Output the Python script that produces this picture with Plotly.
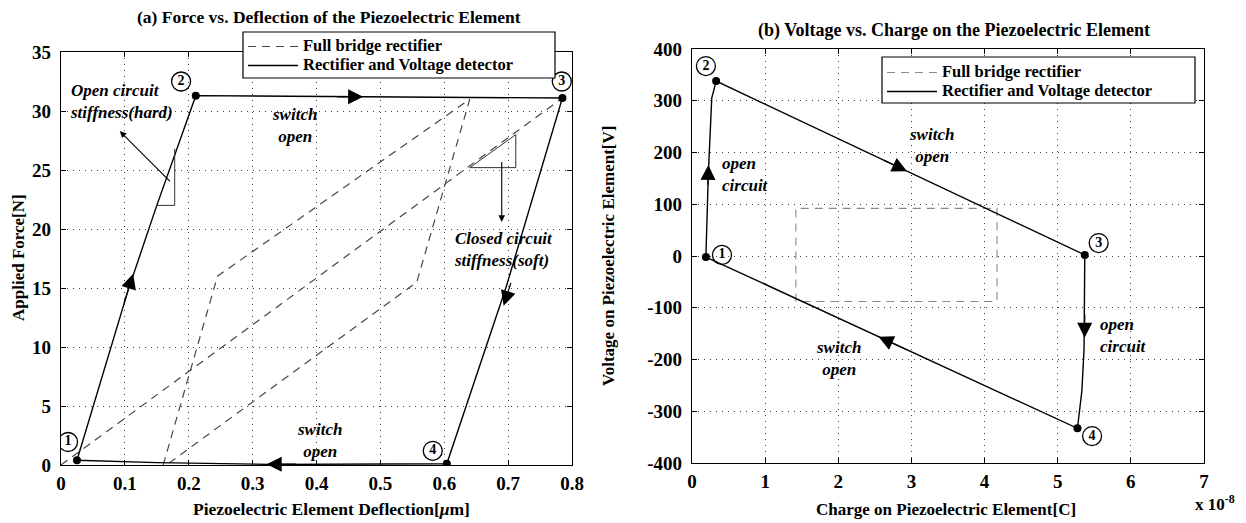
import plotly.graph_objects as go

FONT = "Liberation Serif"
W, H = 1246, 523

# ---------------- (a) Force vs. deflection ----------------
# rectifier + voltage detector cycle: states 1 -> 2 -> 3 -> 4 -> 1
defl_rvd = [0.025, 0.105, 0.150, 0.211, 0.785, 0.697, 0.604, 0.33, 0.15, 0.025]
force_rvd = [0.4, 14.8, 22.0, 31.3, 31.1, 15.1, 0.1, 0.05, 0.2, 0.4]

# full bridge rectifier: closed-circuit line through the origin and the bridge loop
defl_fbr = [0.0, 0.785, None, 0.160, 0.245, 0.640, 0.557, 0.165]
force_fbr = [0.0, 31.1, None, 0.0, 16.0, 31.0, 15.5, 0.0]

state_defl = [0.025, 0.211, 0.785, 0.604]
state_force = [0.4, 31.3, 31.1, 0.1]
state_names = ["1", "2", "3", "4"]
lbl_defl = [0.011, 0.188, 0.784, 0.582]
lbl_force = [1.95, 32.5, 32.5, 1.2]

# stiffness triangles
tri_hard_defl = [0.150, 0.178, 0.178]
tri_hard_force = [22.0, 22.0, 26.8]
tri_soft_defl = [0.640, 0.712, 0.712, 0.640]
tri_soft_force = [25.2, 25.2, 28.0, 25.2]

# direction arrows on the cycle: (tip x, tip y, tail x, tail y)
arrows_a = [(0.113, 16.2, 0.098, 13.6),
            (0.473, 31.2, 0.430, 31.2),
            (0.693, 13.5, 0.705, 15.55),
            (0.322, 0.07, 0.370, 0.07)]

xticks_a = [0, 0.1, 0.2, 0.3, 0.4, 0.5, 0.6, 0.7, 0.8]
xticktext_a = ["0", "0.1", "0.2", "0.3", "0.4", "0.5", "0.6", "0.7", "0.8"]
yticks_a = [0, 5, 10, 15, 20, 25, 30, 35]
yticktext_a = ["0", "5", "10", "15", "20", "25", "30", "35"]

# ---------------- (b) Voltage vs. charge ----------------
charge_rvd = [0.19, 0.223, 0.27, 0.33, 5.37, 5.37, 5.36, 5.33, 5.27, 0.19]
volt_rvd = [-2, 157, 305, 338, 2, -100, -180, -261, -333, -2]

charge_fbr = [1.42, 1.42, 4.17, 4.17, 1.42]
volt_fbr = [-88, 92, 92, -88, -88]

state_charge = [0.19, 0.33, 5.37, 5.27]
state_volt = [-2, 338, 2, -333]
lbl_charge = [0.41, 0.19, 5.56, 5.47]
lbl_volt = [2, 367, 25, -348]

arrows_b = [(0.224, 176, 0.216, 135),
            (2.94, 164, 2.60, 186.6),
            (5.368, -158, 5.370, -110),
            (2.55, -155.9, 2.95, -182)]

xticks_b = [0, 1, 2, 3, 4, 5, 6, 7]
xticktext_b = ["0", "1", "2", "3", "4", "5", "6", "7"]
yticks_b = [-400, -300, -200, -100, 0, 100, 200, 300, 400]
yticktext_b = ["-400", "-300", "-200", "-100", "0", "100", "200", "300", "400"]

series_names = ["Full bridge rectifier", "Rectifier and Voltage detector"]

DASH_GRAY = "#474747"
LIGHT_DASH = "#8a8a8a"


def legend_name(txt):
    return '<span style="font-size:16.5px">' + txt + "</span>"


fig = go.Figure()

# ---- panel (a) traces ----
fig.add_trace(go.Scatter(x=defl_fbr, y=force_fbr, mode="lines",
                         line=dict(color=DASH_GRAY, width=1.2, dash="8px,6px"),
                         name=legend_name(series_names[0]), legend="legend",
                         xaxis="x", yaxis="y"))
fig.add_trace(go.Scatter(x=defl_rvd, y=force_rvd, mode="lines",
                         line=dict(color="black", width=1.4),
                         name=legend_name(series_names[1]), legend="legend",
                         xaxis="x", yaxis="y"))
fig.add_trace(go.Scatter(x=tri_hard_defl, y=tri_hard_force, mode="lines",
                         line=dict(color="#333", width=1), showlegend=False,
                         xaxis="x", yaxis="y"))
fig.add_trace(go.Scatter(x=tri_soft_defl, y=tri_soft_force, mode="lines",
                         line=dict(color="#333", width=1), showlegend=False,
                         xaxis="x", yaxis="y"))
fig.add_trace(go.Scatter(x=state_defl, y=state_force, mode="markers",
                         marker=dict(color="black", size=8), showlegend=False,
                         xaxis="x", yaxis="y"))
fig.add_trace(go.Scatter(x=lbl_defl, y=lbl_force, mode="markers+text",
                         text=state_names, textposition="middle center",
                         textfont=dict(family=FONT, size=14, color="black", weight="bold"),
                         marker=dict(symbol="circle-open", size=19,
                                     line=dict(color="black", width=1.3), color="black"),
                         showlegend=False, xaxis="x", yaxis="y"))

# ---- panel (b) traces ----
fig.add_trace(go.Scatter(x=charge_fbr, y=volt_fbr, mode="lines",
                         line=dict(color=LIGHT_DASH, width=1.1, dash="8px,6px"),
                         name=legend_name(series_names[0]), legend="legend2",
                         xaxis="x2", yaxis="y2"))
fig.add_trace(go.Scatter(x=charge_rvd, y=volt_rvd, mode="lines",
                         line=dict(color="black", width=1.4),
                         name=legend_name(series_names[1]), legend="legend2",
                         xaxis="x2", yaxis="y2"))
fig.add_trace(go.Scatter(x=state_charge, y=state_volt, mode="markers",
                         marker=dict(color="black", size=8), showlegend=False,
                         xaxis="x2", yaxis="y2"))
fig.add_trace(go.Scatter(x=lbl_charge, y=lbl_volt, mode="markers+text",
                         text=state_names, textposition="middle center",
                         textfont=dict(family=FONT, size=14, color="black", weight="bold"),
                         marker=dict(symbol="circle-open", size=19,
                                     line=dict(color="black", width=1.3), color="black"),
                         showlegend=False, xaxis="x2", yaxis="y2"))

annotations = []


def arrow(tx, ty, sx, sy, xr, yr, size=2.5, width=1.2, head=2):
    annotations.append(dict(x=tx, y=ty, ax=sx, ay=sy, xref=xr, yref=yr,
                            axref=xr, ayref=yr, text="", showarrow=True,
                            arrowhead=head, arrowsize=size, arrowwidth=width,
                            arrowcolor="black"))


for tx, ty, sx, sy in arrows_a:
    arrow(tx, ty, sx, sy, "x", "y")
for tx, ty, sx, sy in arrows_b:
    arrow(tx, ty, sx, sy, "x2", "y2")

# stiffness pointers
arrow(0.092, 28.3, 0.173, 23.9, "x", "y", size=1.2, width=1.1)
arrow(0.690, 20.6, 0.690, 25.8, "x", "y", size=1.2, width=1.1)

ITAL = dict(family=FONT, size=17, color="black", style="italic", weight="bold")


def note(x, y, txt, xr, yr, align="center", xanchor="center"):
    annotations.append(dict(x=x, y=y, xref=xr, yref=yr, text=txt, showarrow=False,
                            font=ITAL, align=align, xanchor=xanchor, yanchor="middle"))


note(0.011, 30.8, "Open circuit<br>stiffness(hard)", "x", "y", "left", "left")
note(0.612, 18.3, "Closed circuit<br>stiffness(soft)", "x", "y", "left", "left")
note(0.366, 28.8, "switch<br>open", "x", "y")
note(0.405, 2.1, "switch<br>open", "x", "y")

note(0.38, 158, "open<br>circuit", "x2", "y2", "left", "left")
note(3.27, 214, "switch<br>open", "x2", "y2")
note(2.0, -199, "switch<br>open", "x2", "y2")
note(5.55, -154, "open<br>circuit", "x2", "y2", "left", "left")

BOLD = dict(family=FONT, color="black", weight="bold")


def label(px, py, txt, size, angle=0, xanchor="center"):
    annotations.append(dict(x=px / W, y=1 - py / H, xref="paper", yref="paper",
                            text=txt, showarrow=False, textangle=angle,
                            xanchor=xanchor, yanchor="middle",
                            font=dict(BOLD, size=size)))


label(329, 17, "(a) Force vs. Deflection of the Piezoelectric Element", 17.5)
label(954, 30, "(b) Voltage vs. Charge on the Piezoelectric Element", 18)
label(331, 509, "Piezoelectric Element Deflection[<i>μ</i>m]", 17.5)
label(946, 509, "Charge on Piezoelectric Element[C]", 17)
label(18, 258, "Applied Force[N]", 17, angle=-90)
label(608, 256, "Voltage on Piezoelectric Element[V]", 17, angle=-90)
label(1193, 503, "x 10<sup>-8</sup>", 17, xanchor="left")

# legend frames (the legend entries sit inside these boxes)
shapes = [
    dict(type="rect", xref="paper", yref="paper", layer="above",
         x0=243 / W, x1=555 / W, y0=1 - 78 / H, y1=1 - 32 / H,
         fillcolor="white", line=dict(color="black", width=1.2)),
    dict(type="rect", xref="paper", yref="paper", layer="above",
         x0=882 / W, x1=1195 / W, y0=1 - 103 / H, y1=1 - 57 / H,
         fillcolor="white", line=dict(color="black", width=1.2)),
]

AX = dict(showgrid=True, gridcolor="#444", gridwidth=1, griddash="1px,5px",
          showline=True, linecolor="black", linewidth=1.2, mirror="ticks",
          ticks="inside", ticklen=5, tickcolor="black", zeroline=False,
          tickfont=dict(BOLD, size=19), fixedrange=True, automargin=False)
XAX = dict(AX, ticklabelstandoff=1)
YAX = dict(AX, ticklabelstandoff=5)

LEG = dict(bgcolor="rgba(0,0,0,0)", borderwidth=0,
           font=dict(BOLD, size=12), xanchor="left", yanchor="top",
           tracegroupgap=0, itemwidth=50)

fig.update_layout(
    width=W, height=H, margin=dict(l=0, r=0, t=0, b=0, autoexpand=False),
    paper_bgcolor="white", plot_bgcolor="white",
    xaxis=dict(XAX, domain=[61 / W, 572 / W], range=[0, 0.8],
               tickvals=xticks_a, ticktext=xticktext_a, anchor="y"),
    yaxis=dict(YAX, domain=[1 - 465 / H, 1 - 52 / H], range=[0, 35],
               tickvals=yticks_a, ticktext=yticktext_a, anchor="x"),
    xaxis2=dict(XAX, domain=[692 / W, 1204 / W], range=[0, 7],
                tickvals=xticks_b, ticktext=xticktext_b, anchor="y2"),
    yaxis2=dict(YAX, domain=[1 - 463 / H, 1 - 49 / H], range=[-400, 400],
                tickvals=yticks_b, ticktext=yticktext_b, anchor="x2"),
    legend=dict(LEG, x=243 / W, y=1 - 32 / H),
    legend2=dict(LEG, x=882 / W, y=1 - 58 / H),
    annotations=annotations,
    shapes=shapes,
    showlegend=True,
)

fig.write_html("out.html")
